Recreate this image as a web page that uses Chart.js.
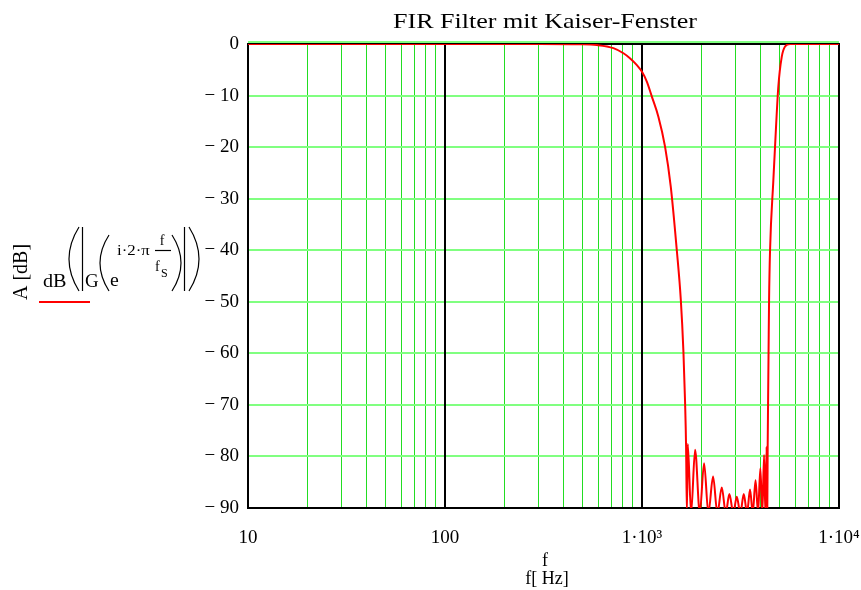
<!DOCTYPE html>
<html>
<head>
<meta charset="utf-8">
<script src="https://cdn.jsdelivr.net/npm/chart.js@4.4.0/dist/chart.umd.min.js"></script>
<style>
  html, body { margin: 0; padding: 0; background: #fff; }
  canvas { display: block; }
</style>
</head>
<body>
<canvas id="c" width="861" height="590"></canvas>
<script>
// Frequency response of the FIR band-stop filter (Kaiser window)
const freqHz = [
  10, 100, 300, 480, 590, 716, 805, 871, 942, 1000, 1058, 1122, 1211, 1309, 1400,
  1502, 1574, 1623, 1655, 1674,
  1690, 1707, 1775, 1860, 1965, 2066, 2172, 2295, 2413, 2541, 2662, 2776, 2909,
  3027, 3157, 3285, 3414, 3535, 3649, 3771, 3882, 3988, 4082, 4165, 4227, 4290, 4325,
  4345, 4365, 4390, 4416, 4467, 4643, 4735, 4920, 5121, 5323, 5641, 10000
];
const gainDb = [
  0, 0, 0, -0.05, -0.2, -0.8, -1.8, -2.8, -4.1, -5.4, -7.3, -10.2, -14.1, -19.9, -27.7,
  -40, -49.6, -59.7, -69.7, -78.1,
  -91, -77.6, -91, -78.7, -91, -81.3, -91, -83.9, -91, -86.0, -91, -87.3, -91,
  -87.8, -91, -87.3, -91, -86.4, -91, -84.6, -91, -82.3, -91, -79.7, -91, -78.1, -91,
  -78, -69.7, -59.7, -49.6, -40, -26.4, -19.9, -8.3, -2.5, -0.5, 0, 0
];

const yTickValues = [0, -10, -20, -30, -40, -50, -60, -70, -80, -90];
const yTickLabels = ['0', '\u2212 10', '\u2212 20', '\u2212 30', '\u2212 40', '\u2212 50',
                     '\u2212 60', '\u2212 70', '\u2212 80', '\u2212 90'];
const xDecades = [10, 100, 1000, 10000];
const xDecadeLabels = ['10', '100', '1\u00B710\u00B3', '1\u00B710\u2074'];
const gridMultipliers = [1, 2, 3, 4, 5, 6, 7, 8, 9];

const SERIF = "'Liberation Serif', 'Times New Roman', serif";

// tick positions for the log grid: 1..9 times each decade
const xGridValues = [];
xDecades.slice(0, -1).forEach(d => gridMultipliers.forEach(m => xGridValues.push(d * m)));
xGridValues.push(xDecades[xDecades.length - 1]);

// black frame and decade lines above the green grid, below the curve
const framePlugin = {
  id: 'frame',
  beforeDatasetsDraw(chart) {
    const { ctx, chartArea: a, scales: { x } } = chart;
    ctx.save();
    ctx.strokeStyle = '#80ff80';
    ctx.lineWidth = 2;
    ctx.beginPath();
    ctx.moveTo(a.left, a.top - 2);
    ctx.lineTo(a.right, a.top - 2);
    ctx.stroke();

    ctx.strokeStyle = '#000';
    ctx.lineWidth = 2;
    xDecades.slice(1, -1).forEach(d => {
      const px = Math.round(x.getPixelForValue(d));
      ctx.beginPath();
      ctx.moveTo(px, a.top);
      ctx.lineTo(px, a.bottom);
      ctx.stroke();
    });
    ctx.strokeRect(a.left, a.top, a.right - a.left, a.bottom - a.top);
    ctx.restore();
  }
};

function paren(ctx, x0, top, bottom, bulge) {
  // tall bracket drawn as a curve; bulge < 0 opens right, > 0 opens left
  const mid = (top + bottom) / 2;
  ctx.beginPath();
  ctx.moveTo(x0, top);
  ctx.quadraticCurveTo(x0 + bulge, mid, x0, bottom);
  ctx.stroke();
}

function wideText(ctx, text, x, y, sx) {
  ctx.save();
  ctx.translate(x, y);
  ctx.scale(sx, 1);
  ctx.fillText(text, 0, 0);
  ctx.restore();
}

// title, axis titles and the curve's formula label
const textPlugin = {
  id: 'texts',
  afterDraw(chart) {
    const ctx = chart.ctx;
    ctx.save();
    ctx.fillStyle = '#000';
    ctx.textBaseline = 'alphabetic';

    ctx.font = '21px ' + SERIF;
    ctx.textAlign = 'center';
    wideText(ctx, 'FIR Filter mit Kaiser-Fenster', 545, 28, 1.24);

    ctx.font = '18px ' + SERIF;
    ctx.fillText('f', 545, 566);
    ctx.fillText('f[ Hz]', 547, 584);

    ctx.save();
    ctx.translate(27, 272);
    ctx.rotate(-Math.PI / 2);
    ctx.font = '20px ' + SERIF;
    ctx.fillText('A [dB]', 0, 0);
    ctx.restore();

    ctx.textAlign = 'left';
    ctx.font = '18px ' + SERIF;
    wideText(ctx, 'dB', 43, 287, 1.12);
    wideText(ctx, 'G', 85, 287, 1.05);
    wideText(ctx, 'e', 110, 286, 1.1);
    ctx.font = '14px ' + SERIF;
    wideText(ctx, 'i\u00B72\u00B7\u03C0', 117, 255, 1.2);
    ctx.textAlign = 'center';
    ctx.fillText('f', 162, 245);
    ctx.textAlign = 'left';
    ctx.fillText('f', 155, 271);
    ctx.font = '12px ' + SERIF;
    ctx.fillText('S', 161, 277);

    ctx.strokeStyle = '#000';
    ctx.lineWidth = 1.2;
    paren(ctx, 79, 227, 291, -20);
    ctx.beginPath(); ctx.moveTo(82.5, 227); ctx.lineTo(82.5, 291); ctx.stroke();
    paren(ctx, 109, 235, 291, -18);
    ctx.beginPath(); ctx.moveTo(155, 250.5); ctx.lineTo(171, 250.5); ctx.stroke();
    paren(ctx, 172, 235, 291, 18);
    ctx.beginPath(); ctx.moveTo(184.5, 227); ctx.lineTo(184.5, 291); ctx.stroke();
    paren(ctx, 189, 227, 291, 20);

    ctx.strokeStyle = '#ff0000';
    ctx.lineWidth = 2;
    ctx.beginPath(); ctx.moveTo(39, 302); ctx.lineTo(90, 302); ctx.stroke();
    ctx.restore();
  }
};

new Chart(document.getElementById('c'), {
  type: 'line',
  data: {
    datasets: [{
      data: freqHz.map((f, i) => ({ x: f, y: gainDb[i] })),
      borderColor: '#ff0000',
      borderWidth: 2,
      pointRadius: 0,
      cubicInterpolationMode: 'monotone',
      fill: false
    }]
  },
  options: {
    responsive: false,
    animation: false,
    devicePixelRatio: 1,
    layout: { padding: { top: 44, right: 22, left: 0, bottom: 0 } },
    plugins: { legend: { display: false }, tooltip: { enabled: false }, title: { display: false } },
    scales: {
      x: {
        type: 'logarithmic',
        min: 10,
        max: 10000,
        afterBuildTicks(scale) { scale.ticks = xGridValues.map(v => ({ value: v })); },
        afterFit(scale) {
          scale.height = 82;
          scale.paddingLeft = 0;
          scale.paddingRight = 0;
        },
        grid: {
          color: c => (xDecades.includes(c.tick.value) ? 'rgba(0,0,0,0)' : '#22dd22'),
          lineWidth: 1,
          drawTicks: false
        },
        border: { display: false },
        ticks: {
          autoSkip: false,
          maxRotation: 0,
          padding: 19,
          color: '#000',
          font: { family: SERIF, size: 19 },
          callback(v) {
            const i = xDecades.indexOf(v);
            return i >= 0 ? xDecadeLabels[i] : '';
          }
        }
      },
      y: {
        min: -90,
        max: 0,
        afterBuildTicks(scale) { scale.ticks = yTickValues.map(v => ({ value: v })); },
        afterFit(scale) {
          scale.width = 248;
          scale.paddingTop = 0;
          scale.paddingBottom = 0;
        },
        grid: { color: '#80ff80', lineWidth: 2, drawTicks: false },
        border: { display: false },
        ticks: {
          padding: 9,
          color: '#000',
          font: { family: SERIF, size: 19 },
          callback(v) {
            const i = yTickValues.indexOf(v);
            return i >= 0 ? yTickLabels[i] : '';
          }
        }
      }
    }
  },
  plugins: [framePlugin, textPlugin]
});
</script>
</body>
</html>
